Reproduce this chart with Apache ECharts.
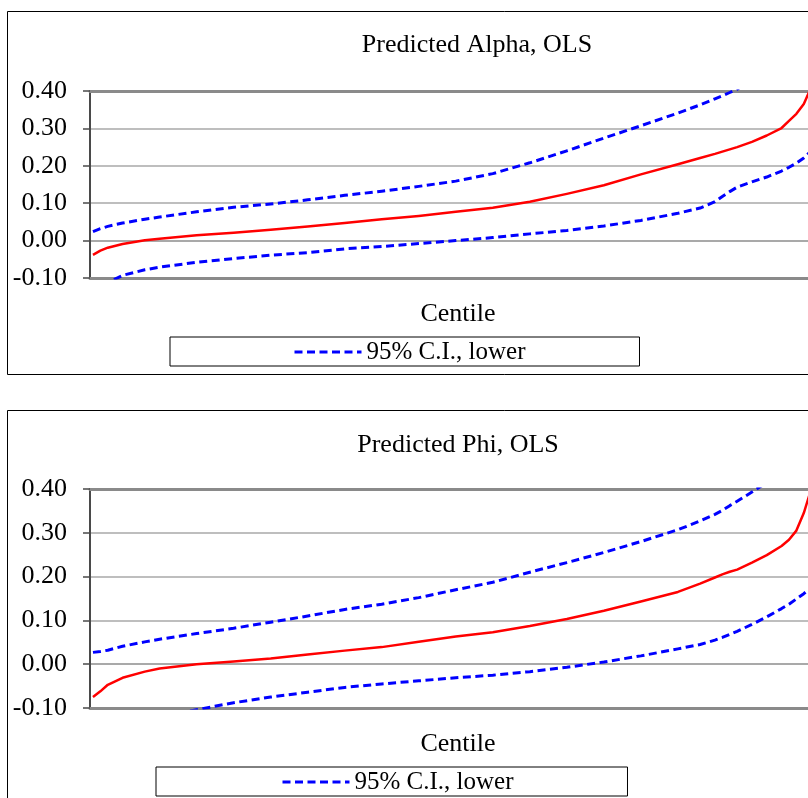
<!DOCTYPE html>
<html>
<head>
<meta charset="utf-8">
<script src="https://cdn.jsdelivr.net/npm/echarts@6/dist/echarts.min.js"></script>
<style>
  html, body { margin: 0; padding: 0; overflow: hidden; background: #fff; }
  #chart { width: 1000px; height: 798px; }
</style>
</head>
<body>
<div id="chart"></div>
<script>
// Centiles at which the fitted values and their 95% bands are plotted
const centiles = [1, 2, 3, 5, 8, 10, 15, 20, 25, 30, 35, 40, 45, 50, 55, 60, 65, 70, 75, 80,
                  83, 85, 86, 87, 88, 90, 92, 94, 95, 96, 97, 98, 99, 100];

// Predicted Alpha (OLS) with 95% confidence interval
const alphaPred  = [-0.038, -0.027, -0.019, -0.009, 0.001, 0.005, 0.014, 0.021, 0.029, 0.038, 0.047, 0.057, 0.066, 0.077, 0.088, 0.104, 0.125, 0.148, 0.177, 0.204,
                    0.221, 0.232, 0.238, 0.244, 0.250, 0.264, 0.281, 0.301, 0.320, 0.339, 0.365, 0.41, 0.47, 0.60];
const alphaUpper = [0.024, 0.032, 0.038, 0.047, 0.057, 0.063, 0.077, 0.089, 0.098, 0.109, 0.121, 0.132, 0.145, 0.159, 0.179, 0.208, 0.240, 0.274, 0.307, 0.341,
                    0.363, 0.379, 0.387, 0.396, 0.405, 0.43, 0.46, 0.50, 0.52, 0.55, 0.59, 0.64, 0.72, 0.90];
const alphaLower = [-0.14, -0.125, -0.112, -0.093, -0.078, -0.071, -0.058, -0.048, -0.039, -0.032, -0.022, -0.016, -0.008, 0.000, 0.008, 0.018, 0.027, 0.039, 0.054, 0.073,
                    0.087, 0.104, 0.118, 0.131, 0.143, 0.157, 0.170, 0.186, 0.196, 0.207, 0.221, 0.24, 0.27, 0.33];

// Predicted Phi (OLS) with 95% confidence interval
const phiPred  = [-0.075, -0.062, -0.047, -0.031, -0.017, -0.010, 0.000, 0.006, 0.013, 0.022, 0.031, 0.039, 0.051, 0.063, 0.073, 0.087, 0.103, 0.122, 0.143, 0.165,
                  0.184, 0.198, 0.205, 0.211, 0.216, 0.232, 0.249, 0.270, 0.284, 0.305, 0.345, 0.40, 0.50, 0.65];
const phiUpper = [0.027, 0.029, 0.032, 0.041, 0.051, 0.057, 0.070, 0.082, 0.096, 0.110, 0.125, 0.137, 0.152, 0.170, 0.187, 0.210, 0.232, 0.255, 0.280, 0.307,
                  0.327, 0.342, 0.351, 0.362, 0.372, 0.393, 0.415, 0.44, 0.455, 0.47, 0.49, 0.52, 0.57, 0.70];
const phiLower = [-0.16, -0.155, -0.15, -0.14, -0.127, -0.12, -0.104, -0.088, -0.075, -0.064, -0.053, -0.045, -0.038, -0.031, -0.025, -0.017, -0.007, 0.005, 0.019, 0.035,
                  0.045, 0.055, 0.061, 0.068, 0.075, 0.091, 0.108, 0.127, 0.137, 0.149, 0.161, 0.175, 0.195, 0.25];

const panelTitles = ['Predicted Alpha, OLS', 'Predicted Phi, OLS'];
const xAxisName = 'Centile';
const lowerName = '95% C.I., lower';
const upperName = '95% C.I., upper';
const predName = 'Predicted';
const yTicks = { min: -0.1, max: 0.4, step: 0.1 };

const serif = '"Liberation Serif", "Times New Roman", serif';
const pairs = (ys) => centiles.map((c, i) => [c, ys[i]]);

const grids = [
  { left: 90, right: 174, top: 91, height: 187 },
  { left: 90, right: 174, top: 489, height: 219 }
];

function bottomAxis(g) {
  return {
    type: 'value', gridIndex: g, min: 0.6, max: 100, position: 'bottom',
    axisLine: { show: true, onZero: false, lineStyle: { color: '#8a8a8a', width: 3 } },
    axisTick: { show: false }, axisLabel: { show: false }, splitLine: { show: false },
    name: xAxisName, nameLocation: 'middle', nameGap: 23,
    nameTextStyle: { fontSize: 26, fontFamily: serif, color: '#000' }
  };
}
function topAxis(g) {
  return {
    type: 'value', gridIndex: g, min: 0.6, max: 100, position: 'top',
    axisLine: { show: true, onZero: false, lineStyle: { color: '#8a8a8a', width: 3 } },
    axisTick: { show: false }, axisLabel: { show: false }, splitLine: { show: false }
  };
}
function valueAxis(g) {
  return {
    type: 'value', gridIndex: g, min: yTicks.min, max: yTicks.max, interval: yTicks.step,
    axisLine: { show: true, lineStyle: { color: '#4a4a4a', width: 2 } },
    axisTick: { show: true, length: 7, lineStyle: { color: '#4a4a4a', width: 1.5 } },
    axisLabel: { margin: 23, fontSize: 26, fontFamily: serif, color: '#000',
                 formatter: v => v.toFixed(2) },
    splitLine: { show: true, lineStyle: { color: ['#a8a8a8', '#8c8c8c', '#a8a8a8', '#a8a8a8', '#a8a8a8', '#a8a8a8'], width: 1.5 } }
  };
}
function band(name, data, xi, yi) {
  return {
    name, type: 'line', xAxisIndex: xi, yAxisIndex: yi, data: pairs(data),
    symbol: 'none', smooth: false,
    lineStyle: { color: '#0000ff', width: 3, type: [8, 4.5], join: 'round' },
    itemStyle: { color: '#0000ff' }
  };
}
function fitted(name, data, xi, yi) {
  return {
    name, type: 'line', xAxisIndex: xi, yAxisIndex: yi, data: pairs(data),
    symbol: 'none', smooth: false,
    lineStyle: { color: '#ff0000', width: 2.5, join: 'round' },
    itemStyle: { color: '#ff0000' }
  };
}
function legendBox(left, top, padLeft) {
  return {
    data: [lowerName], left, top, orient: 'horizontal',
    padding: [2, 114, 1, padLeft], itemWidth: 67, itemHeight: 14, itemGap: 0,
    borderColor: '#000', borderWidth: 1, backgroundColor: '#fff',
    selectedMode: false,
    textStyle: { fontSize: 25, fontFamily: serif, color: '#000', lineHeight: 26 },
    lineStyle: { width: 3 },
    itemStyle: { opacity: 0 }
  };
}

const chart = echarts.init(document.getElementById('chart'), null, { renderer: 'canvas' });
chart.setOption({
  backgroundColor: '#fff',
  animation: false,
  title: [
    { text: panelTitles[0], left: 477, top: 32, textAlign: 'center', padding: 0,
      textStyle: { fontSize: 26, fontWeight: 'normal', fontFamily: serif, color: '#000' } },
    { text: panelTitles[1], left: 458, top: 432, textAlign: 'center', padding: 0,
      textStyle: { fontSize: 26, fontWeight: 'normal', fontFamily: serif, color: '#000' } }
  ],
  legend: [legendBox(170, 337, 123), legendBox(156, 767, 125)],
  grid: grids,
  xAxis: [bottomAxis(0), topAxis(0), bottomAxis(1), topAxis(1)],
  yAxis: [valueAxis(0), valueAxis(1)],
  graphic: [
    { type: 'rect', shape: { x: 7.5, y: 11.5, width: 1100, height: 363 },
      style: { fill: 'none', stroke: '#000', lineWidth: 1 }, silent: true },
    { type: 'rect', shape: { x: 7.5, y: 410.5, width: 1100, height: 500 },
      style: { fill: 'none', stroke: '#000', lineWidth: 1 }, silent: true }
  ],
  series: [
    band(upperName, alphaUpper, 0, 0),
    fitted(predName, alphaPred, 0, 0),
    band(lowerName, alphaLower, 0, 0),
    band(upperName, phiUpper, 2, 1),
    fitted(predName, phiPred, 2, 1),
    band(lowerName, phiLower, 2, 1)
  ]
});
</script>
</body>
</html>
